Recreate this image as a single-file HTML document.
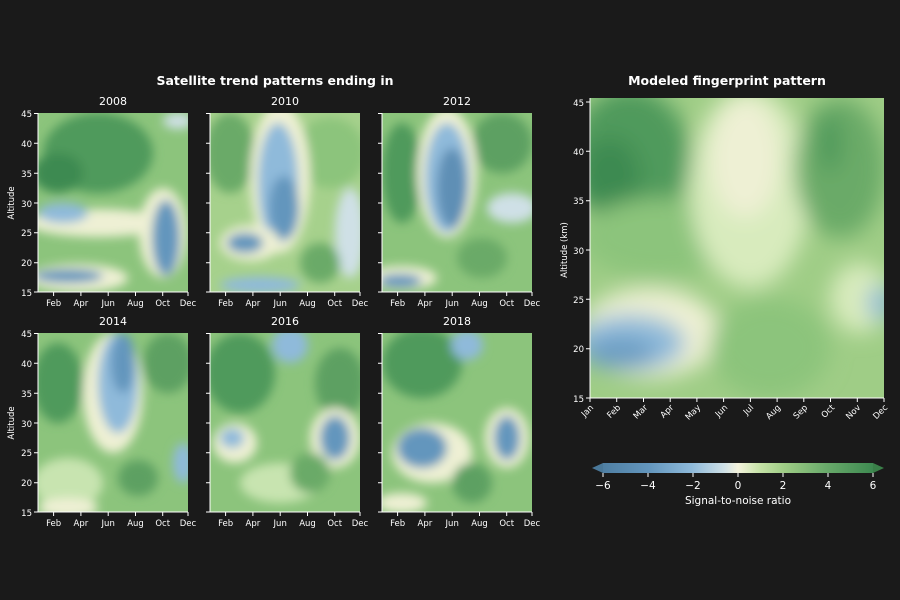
<!DOCTYPE html>
<html><head><meta charset="utf-8"><style>
html,body{margin:0;padding:0;background:#1a1a1a;}
svg{display:block;font-family:"DejaVu Sans","Liberation Sans",sans-serif;}
</style></head><body>
<svg width="900" height="600" viewBox="0 0 900 600">
<defs>
<filter id="b" x="-50%" y="-50%" width="200%" height="200%"><feGaussianBlur stdDeviation="5"/></filter>
<filter id="bb" x="-50%" y="-50%" width="200%" height="200%"><feGaussianBlur stdDeviation="11"/></filter>
<clipPath id="cp"><rect x="0" y="0" width="150" height="179"/></clipPath>
<clipPath id="cpb"><rect x="0" y="0" width="294" height="300"/></clipPath>
<linearGradient id="cb" x1="0" x2="1" y1="0" y2="0">
<stop offset="0" stop-color="#4f7fa3"/><stop offset="0.17" stop-color="#6396bd"/>
<stop offset="0.33" stop-color="#8fbada"/><stop offset="0.45" stop-color="#cfe0e6"/>
<stop offset="0.5" stop-color="#f3f2dc"/><stop offset="0.58" stop-color="#c6e2a7"/>
<stop offset="0.67" stop-color="#9fcd86"/><stop offset="0.83" stop-color="#68a96a"/>
<stop offset="1" stop-color="#3e8a51"/></linearGradient>
</defs>
<rect width="900" height="600" fill="#1a1a1a"/>
<g fill="#fff">
<text x="275" y="85" font-size="12.5" font-weight="bold" text-anchor="middle">Satellite trend patterns ending in</text>
<text x="727" y="85" font-size="12.5" font-weight="bold" text-anchor="middle">Modeled fingerprint pattern</text>
</g>

<!-- 2008 -->
<g transform="translate(38,113)"><g clip-path="url(#cp)">
<rect width="150" height="179" fill="#8cc47c"/>
<g filter="url(#b)">
<ellipse cx="60" cy="40" rx="55" ry="40" fill="#4f9a5c"/>
<ellipse cx="20" cy="60" rx="25" ry="20" fill="#3e8a51"/>
<ellipse cx="60" cy="110" rx="70" ry="14" fill="#eef0d4"/>
<ellipse cx="25" cy="100" rx="25" ry="10" fill="#8fbada"/>
<ellipse cx="125" cy="120" rx="24" ry="45" fill="#eef0d4"/>
<ellipse cx="128" cy="125" rx="14" ry="38" fill="#6396bd"/>
<ellipse cx="40" cy="165" rx="50" ry="14" fill="#eef0d4"/>
<ellipse cx="30" cy="163" rx="35" ry="7" fill="#6396bd"/>
<ellipse cx="140" cy="8" rx="15" ry="8" fill="#cfe0e6"/>
</g></g></g>
<!-- 2010 -->
<g transform="translate(210,113)"><g clip-path="url(#cp)">
<rect width="150" height="179" fill="#a6d18c"/>
<g filter="url(#b)">
<ellipse cx="20" cy="40" rx="25" ry="40" fill="#6aaa68"/>
<ellipse cx="120" cy="40" rx="35" ry="35" fill="#8cc47c"/>
<ellipse cx="70" cy="65" rx="30" ry="75" fill="#eef0d4"/>
<ellipse cx="68" cy="70" rx="20" ry="60" fill="#8fbada"/>
<ellipse cx="74" cy="95" rx="15" ry="32" fill="#6396bd"/>
<ellipse cx="40" cy="130" rx="30" ry="18" fill="#eef0d4"/>
<ellipse cx="35" cy="130" rx="18" ry="10" fill="#6396bd"/>
<ellipse cx="140" cy="120" rx="15" ry="45" fill="#cfe0e6"/>
<ellipse cx="50" cy="172" rx="40" ry="8" fill="#8fbada"/>
<ellipse cx="110" cy="150" rx="20" ry="20" fill="#6aaa68"/>
</g></g></g>
<!-- 2012 -->
<g transform="translate(382,113)"><g clip-path="url(#cp)">
<rect width="150" height="179" fill="#8cc47c"/>
<g filter="url(#b)">
<ellipse cx="20" cy="60" rx="20" ry="50" fill="#4f9a5c"/>
<ellipse cx="120" cy="30" rx="30" ry="30" fill="#5da062"/>
<ellipse cx="65" cy="60" rx="30" ry="65" fill="#eef0d4"/>
<ellipse cx="65" cy="65" rx="22" ry="55" fill="#8fbada"/>
<ellipse cx="70" cy="75" rx="15" ry="40" fill="#5f8fb5"/>
<ellipse cx="130" cy="95" rx="25" ry="15" fill="#cfe0e6"/>
<ellipse cx="20" cy="165" rx="35" ry="12" fill="#eef0d4"/>
<ellipse cx="18" cy="168" rx="22" ry="7" fill="#6396bd"/>
<ellipse cx="100" cy="145" rx="25" ry="20" fill="#6aaa68"/>
</g></g></g>
<!-- 2014 -->
<g transform="translate(38,333)"><g clip-path="url(#cp)">
<rect width="150" height="179" fill="#8cc47c"/>
<g filter="url(#b)">
<ellipse cx="20" cy="50" rx="25" ry="40" fill="#4f9a5c"/>
<ellipse cx="130" cy="30" rx="25" ry="30" fill="#5da062"/>
<ellipse cx="75" cy="60" rx="30" ry="60" fill="#eef0d4"/>
<ellipse cx="80" cy="50" rx="20" ry="50" fill="#8fbada"/>
<ellipse cx="85" cy="30" rx="12" ry="30" fill="#6396bd"/>
<ellipse cx="30" cy="150" rx="35" ry="25" fill="#c8e4b0"/>
<ellipse cx="100" cy="145" rx="20" ry="18" fill="#5da062"/>
<ellipse cx="145" cy="130" rx="10" ry="20" fill="#8fbada"/>
<ellipse cx="30" cy="175" rx="30" ry="10" fill="#eef0d4"/>
</g></g></g>
<!-- 2016 -->
<g transform="translate(210,333)"><g clip-path="url(#cp)">
<rect width="150" height="179" fill="#8cc47c"/>
<g filter="url(#b)">
<ellipse cx="30" cy="40" rx="35" ry="40" fill="#4f9a5c"/>
<ellipse cx="80" cy="12" rx="18" ry="18" fill="#8fbada"/>
<ellipse cx="130" cy="50" rx="25" ry="35" fill="#5da062"/>
<ellipse cx="25" cy="110" rx="22" ry="20" fill="#eef0d4"/>
<ellipse cx="22" cy="105" rx="12" ry="10" fill="#8fbada"/>
<ellipse cx="125" cy="105" rx="25" ry="30" fill="#eef0d4"/>
<ellipse cx="125" cy="105" rx="15" ry="22" fill="#6396bd"/>
<ellipse cx="70" cy="150" rx="40" ry="20" fill="#c8e4b0"/>
<ellipse cx="100" cy="140" rx="20" ry="20" fill="#6aaa68"/>
</g></g></g>
<!-- 2018 -->
<g transform="translate(382,333)"><g clip-path="url(#cp)">
<rect width="150" height="179" fill="#8cc47c"/>
<g filter="url(#b)">
<ellipse cx="40" cy="30" rx="40" ry="35" fill="#4f9a5c"/>
<ellipse cx="85" cy="12" rx="16" ry="15" fill="#8fbada"/>
<ellipse cx="50" cy="120" rx="40" ry="30" fill="#eef0d4"/>
<ellipse cx="40" cy="115" rx="25" ry="20" fill="#6396bd"/>
<ellipse cx="125" cy="105" rx="22" ry="30" fill="#eef0d4"/>
<ellipse cx="125" cy="105" rx="13" ry="22" fill="#6396bd"/>
<ellipse cx="90" cy="150" rx="20" ry="20" fill="#5da062"/>
<ellipse cx="20" cy="170" rx="25" ry="10" fill="#eef0d4"/>
</g></g></g>

<!-- Big panel -->
<g transform="translate(590,98)"><g clip-path="url(#cpb)">
<rect width="294" height="300" fill="#9fcd86"/>
<g filter="url(#bb)">
<ellipse cx="40" cy="60" rx="60" ry="70" fill="#4f9a5c"/>
<ellipse cx="20" cy="80" rx="30" ry="40" fill="#3e8a51"/>
<ellipse cx="70" cy="140" rx="80" ry="40" fill="#8cc47c"/>
<ellipse cx="160" cy="90" rx="60" ry="100" fill="#d8ebbd"/>
<ellipse cx="155" cy="60" rx="35" ry="60" fill="#eef0d4"/>
<ellipse cx="250" cy="70" rx="45" ry="70" fill="#6aaa68"/>
<ellipse cx="240" cy="45" rx="12" ry="30" fill="#4f9a5c"/>
<ellipse cx="60" cy="235" rx="70" ry="45" fill="#eef0d4"/>
<ellipse cx="40" cy="245" rx="55" ry="28" fill="#8fbada"/>
<ellipse cx="30" cy="255" rx="35" ry="15" fill="#6a9cc2"/>
<ellipse cx="270" cy="200" rx="30" ry="35" fill="#d8ebbd"/>
<ellipse cx="290" cy="205" rx="12" ry="18" fill="#8fbada"/>
<ellipse cx="180" cy="250" rx="60" ry="50" fill="#8cc47c"/>
</g></g></g>

<!-- axes -->
<g stroke="#fff" stroke-width="1" fill="none">
<path d="M38,113V292H188M210,113V292H360M382,113V292H532M38,333V512H188M210,333V512H360M382,333V512H532M590,98V398H884"/>
</g>
<g stroke="#fff" stroke-width="1">
<path d="M34,113.5h4M34,143.3h4M34,173.2h4M34,203h4M34,232.8h4M34,262.7h4M34,292h4
M206,113.5h4M206,143.3h4M206,173.2h4M206,203h4M206,232.8h4M206,262.7h4M206,292h4
M378,113.5h4M378,143.3h4M378,173.2h4M378,203h4M378,232.8h4M378,262.7h4M378,292h4
M34,333.5h4M34,363.3h4M34,393.2h4M34,423h4M34,452.8h4M34,482.7h4M34,512h4
M206,333.5h4M206,363.3h4M206,393.2h4M206,423h4M206,452.8h4M206,482.7h4M206,512h4
M378,333.5h4M378,363.3h4M378,393.2h4M378,423h4M378,452.8h4M378,482.7h4M378,512h4
M586,102h4M586,151.3h4M586,200.7h4M586,250h4M586,299.3h4M586,348.7h4M586,398h4"/>
<path d="M53.6,292v4M80.9,292v4M108.2,292v4M135.5,292v4M162.7,292v4M188,292v4
M225.6,292v4M252.9,292v4M280.2,292v4M307.5,292v4M334.7,292v4M360,292v4
M397.6,292v4M424.9,292v4M452.2,292v4M479.5,292v4M506.7,292v4M532,292v4
M53.6,512v4M80.9,512v4M108.2,512v4M135.5,512v4M162.7,512v4M188,512v4
M225.6,512v4M252.9,512v4M280.2,512v4M307.5,512v4M334.7,512v4M360,512v4
M397.6,512v4M424.9,512v4M452.2,512v4M479.5,512v4M506.7,512v4M532,512v4
M590,398v4M616.7,398v4M643.5,398v4M670.2,398v4M696.9,398v4M723.6,398v4M750.4,398v4M777.1,398v4M803.8,398v4M830.5,398v4M857.3,398v4M884,398v4"/>
</g>
<g fill="#fff" font-size="8.5" text-anchor="end">
<text x="32" y="117">45</text><text x="32" y="147">40</text><text x="32" y="177">35</text><text x="32" y="207">30</text><text x="32" y="236">25</text><text x="32" y="266">20</text><text x="32" y="296">15</text>
<text x="32" y="337">45</text><text x="32" y="367">40</text><text x="32" y="397">35</text><text x="32" y="427">30</text><text x="32" y="456">25</text><text x="32" y="486">20</text><text x="32" y="516">15</text>
<text x="584" y="106">45</text><text x="584" y="155">40</text><text x="584" y="204">35</text><text x="584" y="254">30</text><text x="584" y="303">25</text><text x="584" y="352">20</text><text x="584" y="402">15</text>
</g>
<g fill="#fff" font-size="8.5" text-anchor="middle">
<text transform="translate(14,203) rotate(-90)">Altitude</text>
<text transform="translate(14,423) rotate(-90)">Altitude</text>
<text transform="translate(567,250) rotate(-90)">Altitude (km)</text>
<text x="113" y="105" font-size="11">2008</text><text x="285" y="105" font-size="11">2010</text><text x="457" y="105" font-size="11">2012</text>
<text x="113" y="325" font-size="11">2014</text><text x="285" y="325" font-size="11">2016</text><text x="457" y="325" font-size="11">2018</text>
</g>
<g fill="#fff" font-size="8.5" text-anchor="middle">
<g id="mx1"><text x="53.6" y="306">Feb</text><text x="80.9" y="306">Apr</text><text x="108.2" y="306">Jun</text><text x="135.5" y="306">Aug</text><text x="162.7" y="306">Oct</text><text x="188" y="306">Dec</text></g>
<use href="#mx1" x="172"/><use href="#mx1" x="344"/>
<use href="#mx1" y="220"/><use href="#mx1" x="172" y="220"/><use href="#mx1" x="344" y="220"/>
</g>
<g fill="#fff" font-size="8.5" text-anchor="end">
<text transform="translate(594,408) rotate(-45)">Jan</text>
<text transform="translate(621,408) rotate(-45)">Feb</text>
<text transform="translate(648,408) rotate(-45)">Mar</text>
<text transform="translate(674,408) rotate(-45)">Apr</text>
<text transform="translate(701,408) rotate(-45)">May</text>
<text transform="translate(728,408) rotate(-45)">Jun</text>
<text transform="translate(754,408) rotate(-45)">Jul</text>
<text transform="translate(781,408) rotate(-45)">Aug</text>
<text transform="translate(808,408) rotate(-45)">Sep</text>
<text transform="translate(835,408) rotate(-45)">Oct</text>
<text transform="translate(861,408) rotate(-45)">Nov</text>
<text transform="translate(888,408) rotate(-45)">Dec</text>
</g>
<!-- colorbar -->
<polygon points="592,468 603,463 603,473" fill="#4a7899"/>
<polygon points="884,468 873,463 873,473" fill="#3a8049"/>
<rect x="603" y="463" width="270" height="10" fill="url(#cb)"/>
<g stroke="#fff"><path d="M603,473v4M648,473v4M693,473v4M738,473v4M783,473v4M828,473v4M873,473v4"/></g>
<g fill="#fff" font-size="10.5" text-anchor="middle">
<text x="603" y="489">−6</text><text x="648" y="489">−4</text><text x="693" y="489">−2</text><text x="738" y="489">0</text><text x="783" y="489">2</text><text x="828" y="489">4</text><text x="873" y="489">6</text>
<text x="738" y="504">Signal-to-noise ratio</text>
</g>
</svg>
</body></html>
